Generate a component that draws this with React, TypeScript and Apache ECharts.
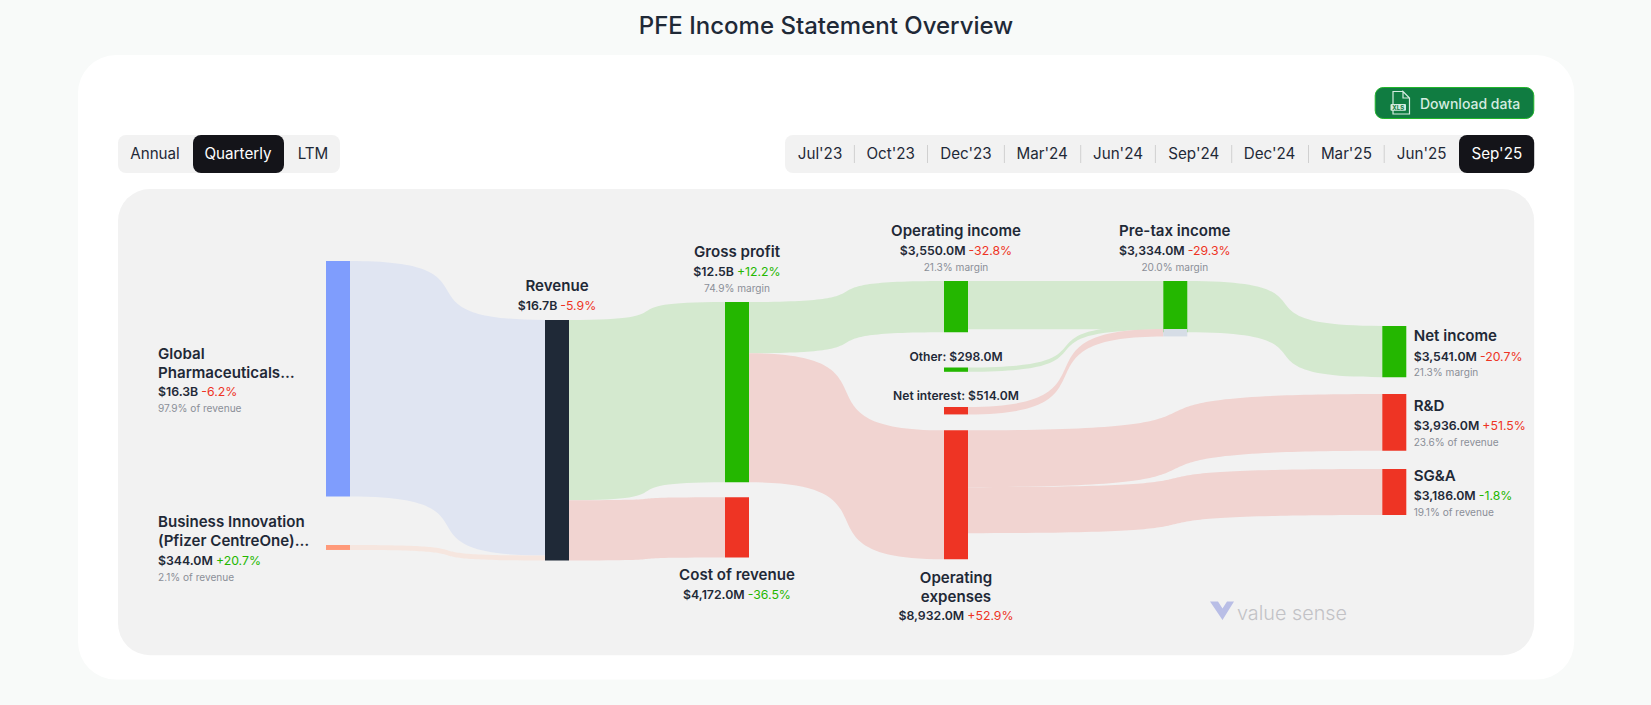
import React, { useEffect, useRef } from "react";
import * as echarts from "echarts";

const FONT = "Inter";
const DARK = "#1f2937";
const GREY = "#8b8f98";
const RED = "#ee3424";
const GREEN = "#24b700";
const BLUE_NODE = "#7f9dfd";
const ORANGE_NODE = "#ff9a7a";
const RED_LINK = "#f1d4d1";
const GREEN_LINK = "#d4e9cf";
const BLUE_LINK = "#e0e5f2";
const ORANGE_LINK = "#f6e6df";

const periodTabs = ["Annual", "Quarterly", "LTM"];
const dateTabs = ["Jul'23", "Oct'23", "Dec'23", "Mar'24", "Jun'24", "Sep'24", "Dec'24", "Mar'25", "Jun'25", "Sep'25"];

// Sankey nodes: name and $M value
const nodeNames = [
  "Global Pharmaceuticals", "Business Innovation", "Revenue", "Gross profit", "Cost of revenue",
  "Operating income", "Other", "Net interest", "Operating expenses", "Pre-tax income",
  "Other into pre-tax", "Net interest into pre-tax", "Net income", "R&D", "SG&A",
];
const nodeValues = [16310, 344, 16654, 12482, 4172, 3550, 298, 514, 8932, 3334, 298, 514, 3541, 3936, 3186];

// Sankey links: source, target, $M value
const linkSources = [0, 1, 2, 2, 3, 3, 5, 9, 8, 8, 6, 7];
const linkTargets = [2, 2, 3, 4, 5, 8, 9, 12, 13, 14, 10, 11];
const linkValues = [16310, 344, 12482, 4172, 3550, 8932, 3334, 3541, 3936, 3186, 298, 514];

// Layout tables (not data)
const nodeColors = [
  BLUE_NODE, ORANGE_NODE, DARK, GREEN, RED, GREEN, GREEN, RED, RED, GREEN,
  "transparent", "#d6dde6", GREEN, RED, RED,
];
const nodeDepths = [0, 0, 1, 2, 2, 3, 3, 3, 3, 4, 4, 4, 5, 5, 5];
const columnX = [326, 545, 725, 944, 1163.3, 1382.3];
const nodeTops = [261, 545, 320, 302, 497.3, 281, 367.5, 407, 430.3, 281, 325.5, 329, 326, 394, 469];
const linkColors = [
  BLUE_LINK, ORANGE_LINK, GREEN_LINK, RED_LINK, GREEN_LINK, RED_LINK,
  GREEN_LINK, GREEN_LINK, RED_LINK, RED_LINK, GREEN_LINK, RED_LINK,
];
const SK = { left: 326, top: 261, width: 1080.3, height: 240.5 };
const CURVE = 0.82;

type Line = { kind: "name" | "small" | "value" | "mini"; text?: string; value?: string; delta?: string; up?: boolean; y: number };
type Label = { x: number; align: "left" | "center"; lines: Line[] };

const nodeLabels: Label[] = [
  { x: 158, align: "left", lines: [
    { kind: "name", text: "Global", y: 353 },
    { kind: "name", text: "Pharmaceuticals…", y: 372 },
    { kind: "value", value: "$16.3B", delta: "-6.2%", up: false, y: 391.7 },
    { kind: "mini", text: "97.9% of revenue", y: 408 },
  ] },
  { x: 158, align: "left", lines: [
    { kind: "name", text: "Business Innovation", y: 521.7 },
    { kind: "name", text: "(Pfizer CentreOne)…", y: 540.7 },
    { kind: "value", value: "$344.0M", delta: "+20.7%", up: true, y: 560.7 },
    { kind: "mini", text: "2.1% of revenue", y: 577 },
  ] },
  { x: 557, align: "center", lines: [
    { kind: "name", text: "Revenue", y: 285 },
    { kind: "value", value: "$16.7B", delta: "-5.9%", up: false, y: 305 },
  ] },
  { x: 737, align: "center", lines: [
    { kind: "name", text: "Gross profit", y: 251.7 },
    { kind: "value", value: "$12.5B", delta: "+12.2%", up: true, y: 271.7 },
    { kind: "mini", text: "74.9% margin", y: 288 },
  ] },
  { x: 737, align: "center", lines: [
    { kind: "name", text: "Cost of revenue", y: 574.7 },
    { kind: "value", value: "$4,172.0M", delta: "-36.5%", up: true, y: 594.7 },
  ] },
  { x: 956, align: "center", lines: [
    { kind: "name", text: "Operating income", y: 230.7 },
    { kind: "value", value: "$3,550.0M", delta: "-32.8%", up: false, y: 250.7 },
    { kind: "mini", text: "21.3% margin", y: 267 },
  ] },
  { x: 1174.8, align: "center", lines: [
    { kind: "name", text: "Pre-tax income", y: 230.7 },
    { kind: "value", value: "$3,334.0M", delta: "-29.3%", up: false, y: 250.7 },
    { kind: "mini", text: "20.0% margin", y: 267 },
  ] },
  { x: 956, align: "center", lines: [{ kind: "small", text: "Other: $298.0M", y: 356 }] },
  { x: 956, align: "center", lines: [{ kind: "small", text: "Net interest: $514.0M", y: 395.7 }] },
  { x: 956, align: "center", lines: [
    { kind: "name", text: "Operating", y: 577 },
    { kind: "name", text: "expenses", y: 596 },
    { kind: "value", value: "$8,932.0M", delta: "+52.9%", up: false, y: 615.7 },
  ] },
  { x: 1413.7, align: "left", lines: [
    { kind: "name", text: "Net income", y: 335.7 },
    { kind: "value", value: "$3,541.0M", delta: "-20.7%", up: false, y: 356 },
    { kind: "mini", text: "21.3% margin", y: 372 },
  ] },
  { x: 1413.7, align: "left", lines: [
    { kind: "name", text: "R&D", y: 405.7 },
    { kind: "value", value: "$3,936.0M", delta: "+51.5%", up: false, y: 425.7 },
    { kind: "mini", text: "23.6% of revenue", y: 442 },
  ] },
  { x: 1413.7, align: "left", lines: [
    { kind: "name", text: "SG&A", y: 475.7 },
    { kind: "value", value: "$3,186.0M", delta: "-1.8%", up: true, y: 495.7 },
    { kind: "mini", text: "19.1% of revenue", y: 512 },
  ] },
];

const txt = (text: string, x: number, y: number, fontSize: number, fontWeight: number, fill: string, align = "center", extra: any = {}) => ({
  type: "text",
  x,
  y,
  z: 5,
  style: { text, fontSize, fontWeight, fontFamily: FONT, fill, align, verticalAlign: "middle", ...extra },
});

const labelElements = () => {
  const out: any[] = [];
  nodeLabels.forEach((l) => {
    l.lines.forEach((ln) => {
      if (ln.kind === "name") out.push(txt(ln.text!, l.x, ln.y, 15.1, 600, DARK, l.align));
      else if (ln.kind === "small") out.push(txt(ln.text!, l.x, ln.y, 12.1, 600, DARK, l.align));
      else if (ln.kind === "mini") out.push(txt(ln.text!, l.x, ln.y, 10.1, 400, GREY, l.align));
      else
        out.push(
          txt(`{v|${ln.value}} {d|${ln.delta}}`, l.x, ln.y, 12.3, 600, DARK, l.align, {
            rich: {
              v: { fontSize: 12.3, fontWeight: 600, fontFamily: FONT, fill: DARK },
              d: { fontSize: 12.3, fontWeight: 400, fontFamily: FONT, fill: ln.up ? GREEN : RED },
            },
          })
        );
    });
  });
  return out;
};

const chromeElements = () => {
  const els: any[] = [];
  const rect = (x: number, y: number, w: number, h: number, r: number, fill: string, extra: any = {}) => ({
    type: "rect",
    z: 0,
    shape: { x, y, width: w, height: h, r },
    style: { fill, ...extra },
  });
  els.push(rect(78, 55, 1496.2, 624.6, 38, "#ffffff"));
  els.push(rect(118, 189, 1416.2, 466.3, 32, "#f2f2f2"));
  // title
  els.push(txt("PFE Income Statement Overview", 826, 25, 24, 500, DARK));
  // period tabs
  els.push(rect(118, 135, 222, 38, 8, "#f2f2f2"));
  els.push(rect(193, 135, 91, 38, 8, "#141419"));
  [155, 238, 313].forEach((x, i) => els.push(txt(periodTabs[i], x, 153.5, 15.2, 400, i === 1 ? "#ffffff" : DARK)));
  // date tabs
  els.push(rect(785, 135, 749.2, 38, 8, "#f2f2f2"));
  els.push(rect(1459, 135, 75.2, 38, 8, "#141419"));
  [854.4, 927.5, 1004.4, 1080.7, 1155.4, 1231.7, 1308.5, 1384.2].forEach((x) =>
    els.push({ type: "line", z: 1, shape: { x1: x, y1: 145, x2: x, y2: 163 }, style: { stroke: "#d0d0d0", lineWidth: 1 } })
  );
  [820, 890.7, 966, 1042.2, 1118, 1193.8, 1269.5, 1346.4, 1421.6, 1496.8].forEach((x, i) =>
    els.push(txt(dateTabs[i], x, 153.5, 15.2, 400, i === 9 ? "#ffffff" : DARK))
  );
  // download button
  els.push(rect(1375.2, 87.5, 158.6, 31, 8, "#107c41", { stroke: "#22b52a", lineWidth: 1 }));
  els.push({
    type: "polyline",
    z: 2,
    shape: { points: [[1403, 91.5], [1393, 91.5], [1393, 114], [1409.5, 114], [1409.5, 98], [1403, 91.5], [1403, 98], [1409.5, 98]] },
    style: { stroke: "#d5ece0", fill: "none", lineWidth: 1.2 },
  });
  els.push(rect(1390.5, 104, 15.5, 6.8, 1, "#d5ece0"));
  els.push(txt("XLS", 1398.2, 107.5, 6, 700, "#107c41"));
  els.push(txt("Download data", 1420, 103, 14, 500, "#d5ece0", "left"));
  // watermark
  els.push({
    type: "polygon",
    z: 2,
    shape: { points: [[1210, 601.5], [1218, 601.5], [1222.5, 608.5], [1227, 601.5], [1234, 601.5], [1222.5, 620]] },
    style: { fill: "#b9bee6" },
  });
  els.push(txt("value sense", 1237, 612.5, 19.8, 300, "#c2c2c6", "left"));
  return els;
};

export default function App() {
  const ref = useRef<HTMLDivElement>(null);
  useEffect(() => {
    document.body.style.margin = "0";
    const chart = echarts.init(ref.current!, undefined, { renderer: "svg" });
    chart.setOption({
      animation: false,
      backgroundColor: "#f8faf9",
      textStyle: { fontFamily: FONT },
      graphic: { elements: [...chromeElements(), ...labelElements()] },
      series: [
        {
          type: "sankey",
          left: SK.left,
          top: SK.top,
          width: SK.width,
          height: SK.height,
          nodeWidth: 24,
          nodeGap: 0,
          layoutIterations: 0,
          draggable: false,
          silent: true,
          label: { show: false },
          emphasis: { disabled: true },
          data: nodeNames.map((name, i) => ({
            name,
            value: nodeValues[i],
            depth: nodeDepths[i],
            localX: (columnX[nodeDepths[i]] - SK.left) / SK.width,
            localY: (nodeTops[i] - SK.top) / SK.height,
            itemStyle: { color: nodeColors[i], borderWidth: 0 },
          })),
          links: linkValues.map((value, i) => ({
            source: nodeNames[linkSources[i]],
            target: nodeNames[linkTargets[i]],
            value,
            lineStyle: { color: linkColors[i], opacity: 1, curveness: CURVE },
          })),
        },
      ],
    });
    return () => chart.dispose();
  }, []);
  return <div ref={ref} style={{ position: "absolute", left: 0, top: 0, width: 1651, height: 705 }} />;
}
